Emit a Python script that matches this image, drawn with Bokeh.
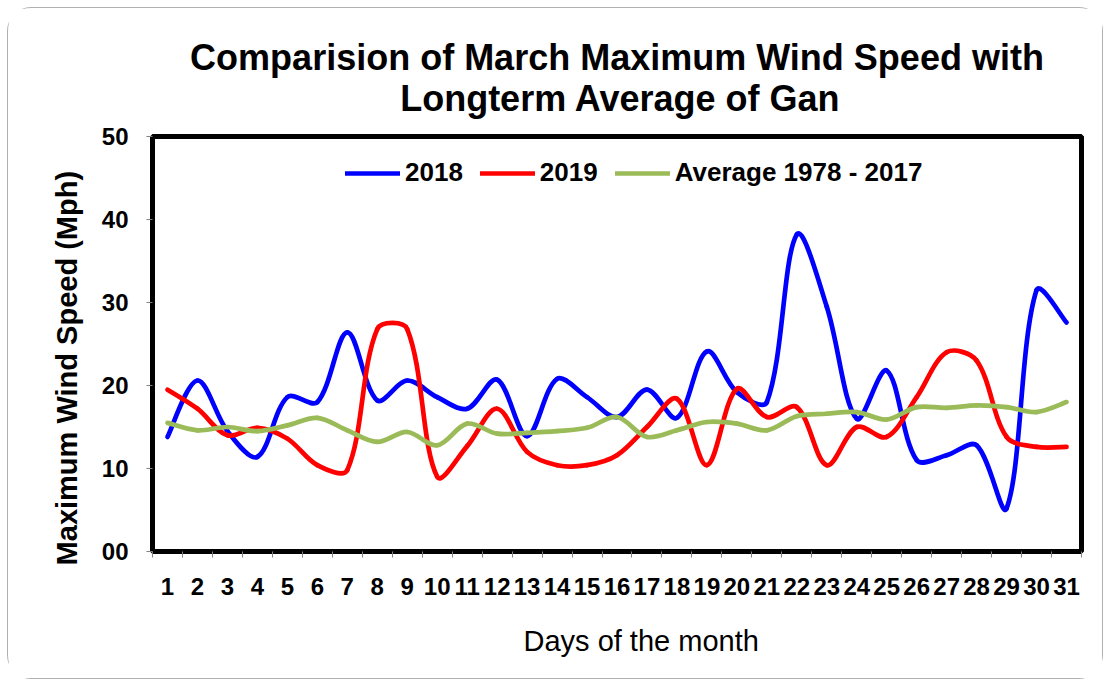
import numpy as np
from bokeh.plotting import figure
from bokeh.models import Range1d, FixedTicker, Legend, LegendItem, Title
from bokeh.embed import file_html
from bokeh.resources import INLINE

# ---------------- data ----------------
days = list(range(1, 32))
day_labels = [str(d) for d in days]
wind_2018 = [13.8, 20.6, 14.5, 11.4, 18.6, 18.0, 26.4, 18.2, 20.6, 18.6, 17.2,
             20.7, 13.9, 20.8, 18.6, 16.2, 19.5, 16.1, 24.1, 19.2, 18.0, 38.2,
             29.5, 16.0, 21.8, 11.0, 11.6, 12.8, 5.2, 31.5, 27.6]
wind_2019 = [19.5, 17.2, 14.0, 14.9, 13.6, 10.4, 9.8, 26.8, 26.8, 9.0, 12.7,
             17.2, 12.0, 10.4, 10.4, 11.6, 15.0, 18.4, 10.4, 19.6, 16.2, 17.4,
             10.4, 15.0, 13.8, 18.6, 24.0, 23.0, 13.8, 12.6, 12.6]
wind_avg = [15.5, 14.6, 15.0, 14.5, 15.2, 16.1, 14.6, 13.2, 14.4, 12.8, 15.4,
            14.2, 14.3, 14.5, 14.9, 16.2, 13.8, 14.6, 15.6, 15.4, 14.6, 16.3,
            16.6, 16.8, 15.9, 17.4, 17.3, 17.6, 17.4, 16.8, 18.0]
series_names = ["2018", "2019", "Average 1978 - 2017"]
series_colors = ["#0000FF", "#FF0000", "#9BBB59"]
y_ticks = [0, 10, 20, 30, 40, 50]
y_tick_labels = ["00", "10", "20", "30", "40", "50"]
title_lines = ["Comparision of March Maximum Wind Speed with",
               "Longterm Average of Gan"]
x_title = "Days of the month"
y_title = "Maximum Wind Speed (Mph)"

FONT = "Liberation Sans"
NB = "\u00a0"

# ---------------- figure ----------------
W, H = 1096, 672
p = figure(width=W, height=H, output_backend="svg", toolbar_location=None,
           x_range=Range1d(0.5, 31.5), y_range=Range1d(0, 50),
           min_border_left=144, min_border_right=23,
           min_border_top=128, min_border_bottom=129)
p.title.visible = False
p.styles = {"border": "1px solid #b0b0b0", "border-radius": "24px",
            "margin-left": "7px", "margin-top": "7px"}
p.background_fill_color = "white"
p.border_fill_color = "white"
p.xgrid.visible = False
p.ygrid.visible = False
p.outline_line_color = "black"
p.outline_line_width = 5

# x axis
xa = p.xaxis[0]
xa.ticker = FixedTicker(ticks=days, minor_ticks=[d - 0.5 for d in days] + [31.5])
xa.major_label_overrides = {d: lab for d, lab in zip(days, day_labels)}
xa.major_tick_out = 0
xa.major_tick_in = 0
xa.minor_tick_out = 6
xa.minor_tick_in = 0
xa.minor_tick_line_color = "#808080"
xa.axis_line_color = None
xa.major_label_standoff = 20
xa.major_label_text_font = FONT
xa.major_label_text_font_style = "bold"
xa.major_label_text_font_size = "24px"
xa.major_label_text_color = "black"
xa.axis_label = NB * 6 + x_title
xa.axis_label_standoff = 27
xa.axis_label_text_font = FONT
xa.axis_label_text_font_style = "normal"
xa.axis_label_text_font_size = "29px"
xa.axis_label_text_color = "black"

# y axis
ya = p.yaxis[0]
ya.ticker = FixedTicker(ticks=y_ticks, minor_ticks=[])
ya.major_label_overrides = {t: lab for t, lab in zip(y_ticks, y_tick_labels)}
ya.major_tick_out = 6
ya.major_tick_in = 0
ya.major_tick_line_color = "#808080"
ya.minor_tick_line_color = None
ya.axis_line_color = None
ya.major_label_standoff = 18
ya.major_label_text_font = FONT
ya.major_label_text_font_style = "bold"
ya.major_label_text_font_size = "24px"
ya.major_label_text_color = "black"
ya.axis_label = y_title + NB * 6
ya.axis_label_standoff = 16
ya.axis_label_text_font = FONT
ya.axis_label_text_font_style = "bold"
ya.axis_label_text_font_size = "29px"
ya.axis_label_text_color = "black"


def smooth_segments(xs, ys, sx=30.0, sy=8.3):
    """Bezier control points (length-weighted Catmull-Rom) for a smoothed line."""
    P = np.column_stack([xs, ys]).astype(float)
    S = np.array([sx, sy])
    n = len(P)

    def dist(a, b):
        return float(np.hypot(*((P[b] - P[a]) * S)))

    out = {k: [] for k in ("x0", "y0", "x1", "y1", "cx0", "cy0", "cx1", "cy1")}
    for i in range(n - 1):
        d_cur = dist(i, i + 1)
        if i == 0:
            t1 = P[1] - P[0]
            f1 = 1.0 / 6.0
        else:
            d_prev = dist(i - 1, i)
            t1 = P[i + 1] - P[i - 1]
            f1 = d_cur / (d_prev + d_cur) / 3.0
        if i + 2 >= n:
            t2 = P[i + 1] - P[i]
            f2 = 1.0 / 6.0
        else:
            d_next = dist(i + 1, i + 2)
            t2 = P[i + 2] - P[i]
            f2 = d_cur / (d_cur + d_next) / 3.0
        c1 = P[i] + t1 * f1
        c2 = P[i + 1] - t2 * f2
        out["x0"].append(P[i][0]); out["y0"].append(P[i][1])
        out["x1"].append(P[i + 1][0]); out["y1"].append(P[i + 1][1])
        out["cx0"].append(c1[0]); out["cy0"].append(c1[1])
        out["cx1"].append(c2[0]); out["cy1"].append(c2[1])
    return out


legend_items = []
for name, color, vals in zip(series_names, series_colors,
                             [wind_2018, wind_2019, wind_avg]):
    seg = smooth_segments(days, vals)
    r = p.bezier(x0=seg["x0"], y0=seg["y0"], x1=seg["x1"], y1=seg["y1"],
                 cx0=seg["cx0"], cy0=seg["cy0"], cx1=seg["cx1"], cy1=seg["cy1"],
                 line_color=color, line_width=4.7, line_cap="round")
    legend_items.append(LegendItem(label=name, renderers=[r]))

legend = Legend(items=legend_items, location=(193, 363), orientation="horizontal",
                glyph_width=55, glyph_height=30, label_height=30,
                label_standoff=5, spacing=17, padding=0, margin=0,
                border_line_alpha=0, background_fill_alpha=0,
                label_text_font=FONT, label_text_font_style="bold",
                label_text_font_size="26px", label_text_color="black")
p.add_layout(legend)

# two-line title; the shorter second line is padded so that it sits centred
title_text = title_lines[0] + "\n" + NB * 21 + title_lines[1]
p.add_layout(Title(text=title_text, align="center", text_font=FONT,
                   text_font_style="bold", text_font_size="36px",
                   text_line_height=1.0, text_color="black", standoff=36), "above")

open("out.html", "w").write(file_html(p, INLINE))
